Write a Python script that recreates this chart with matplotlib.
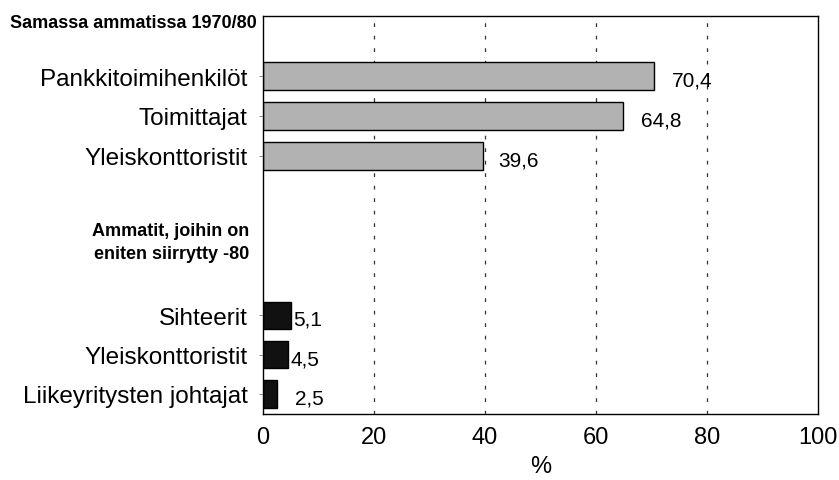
import matplotlib.pyplot as plt

# occupations, same occupation 1970/80 (%)
top_labels = ['Pankkitoimihenkilöt', 'Toimittajat', 'Yleiskonttoristit']
top_values = [70.4, 64.8, 39.6]

# occupations most moved to -80 (%)
bottom_labels = ['Sihteerit', 'Yleiskonttoristit', 'Liikeyritysten johtajat']
bottom_values = [5.1, 4.5, 2.5]

xticks = [0, 20, 40, 60, 80, 100]

plt.rcParams['font.family'] = ['Liberation Sans', 'DejaVu Sans']

fig = plt.figure(figsize=(8.39, 4.81), dpi=100)
ax = fig.add_axes([263/839, 1 - 415/481, (818 - 263)/839, (415 - 17)/481])

top_pos = [1.5, 2.5, 3.5]
bottom_pos = [7.48, 8.47, 9.45]
h = 0.68

for x in xticks[1:-1]:
    ax.axvline(x, color='#333333', lw=0.9, ls=(0, (3, 7)), zorder=0)

ax.barh(top_pos, top_values, height=h, color='#b2b2b2', edgecolor='black', lw=1.0, zorder=2)
ax.barh(bottom_pos, bottom_values, height=h, color='#111111', edgecolor='black', lw=1.0, zorder=2)

pads = [13, 13, 11, 1.5, 1.5, 13]
for i, (p, v) in enumerate(zip(top_pos + bottom_pos, top_values + bottom_values)):
    ax.annotate(('%.1f' % v).replace('.', ','), (v, p), xytext=(pads[i], -3),
                textcoords='offset points', va='center', ha='left', fontsize=15)

ax.set_xlim(0, 100)
ax.set_ylim(9.95, 0)
ax.set_xticks(xticks)
ax.set_xticklabels([str(t) for t in xticks], fontsize=17)
ax.tick_params(axis='x', length=0, pad=9)
ax.set_yticks(top_pos + bottom_pos)
ax.set_yticklabels(top_labels + bottom_labels, fontsize=17.5)
ax.tick_params(axis='y', length=3, width=0.6, color='#777777', pad=8)
ax.set_xlabel('%', fontsize=17, labelpad=5)

for s in ax.spines.values():
    s.set_linewidth(1.0)

fig.text(10/839, 1 - 23/481, 'Samassa ammatissa 1970/80', fontsize=13, fontweight='bold',
         ha='left', va='center')
fig.text(249/839, 1 - 232/481, 'Ammatit, joihin on', fontsize=13, fontweight='bold',
         ha='right', va='center')
fig.text(249/839, 1 - 255/481, 'eniten siirrytty -80', fontsize=13, fontweight='bold',
         ha='right', va='center')

fig.savefig('out.png', dpi=100)
